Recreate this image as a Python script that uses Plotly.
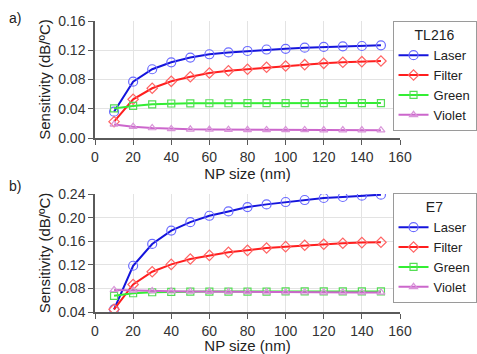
import plotly.graph_objects as go
from plotly.subplots import make_subplots

np_size = [10, 20, 30, 40, 50, 60, 70, 80, 90, 100, 110, 120, 130, 140, 150]

# TL216
laser_a = [0.036, 0.077, 0.094, 0.1035, 0.110, 0.1145, 0.117, 0.119, 0.121, 0.122, 0.1235, 0.1245, 0.1254, 0.1258, 0.1268]
filter_a = [0.0223, 0.0529, 0.068, 0.0775, 0.0838, 0.0889, 0.092, 0.094, 0.0967, 0.0985, 0.1003, 0.1021, 0.1035, 0.1044, 0.1053]
green_a = [0.0405, 0.0438, 0.046, 0.0472, 0.0474, 0.0475, 0.0475, 0.0476, 0.0476, 0.0477, 0.0477, 0.0477, 0.0478, 0.0478, 0.0478]
violet_a = [0.0185, 0.0155, 0.0137, 0.0125, 0.0119, 0.0116, 0.0114, 0.0112, 0.0111, 0.011, 0.011, 0.0109, 0.0108, 0.0108, 0.0107]

# E7
laser_b = [0.0445, 0.1184, 0.1553, 0.178, 0.1923, 0.2031, 0.2105, 0.2178, 0.2224, 0.2264, 0.2298, 0.2332, 0.2349, 0.2372, 0.2389]
filter_b = [0.0445, 0.0866, 0.1082, 0.1207, 0.1298, 0.136, 0.1411, 0.1445, 0.1485, 0.1508, 0.1531, 0.1548, 0.1565, 0.1576, 0.1582]
green_b = [0.0675, 0.0718, 0.0735, 0.0742, 0.0745, 0.0746, 0.0747, 0.0747, 0.0747, 0.0748, 0.0748, 0.0748, 0.0748, 0.0748, 0.0748]
violet_b = [0.0775, 0.0765, 0.0758, 0.0752, 0.0748, 0.0745, 0.0742, 0.074, 0.0738, 0.0736, 0.0735, 0.0734, 0.0733, 0.0732, 0.0731]

series_names = ["Laser", "Filter", "Green", "Violet"]
legend_titles = ["TL216", "E7"]
panel_labels = ["a)", "b)"]
x_ticks = [0, 20, 40, 60, 80, 100, 120, 140, 160]

styles = {
    "Laser": dict(line="#1414dc", marker="#6b6bff", symbol="circle-open", size=9),
    "Filter": dict(line="#ff1e1e", marker="#ff6464", symbol="diamond-open", size=8),
    "Green": dict(line="#33ee33", marker="#55dd55", symbol="square-open", size=7),
    "Violet": dict(line="#cc66cc", marker="#d995d9", symbol="triangle-up-open", size=7),
}

FONT = "Liberation Sans, Arial, sans-serif"
W, H = 477, 354

fig = make_subplots(rows=2, cols=1)

data = [
    [laser_a, filter_a, green_a, violet_a],
    [laser_b, filter_b, green_b, violet_b],
]
for r, panel in enumerate(data):
    for name, ys in zip(series_names, panel):
        st = styles[name]
        fig.add_trace(
            go.Scatter(
                x=np_size, y=ys, name=name, mode="lines+markers",
                line=dict(color=st["line"], width=2),
                marker=dict(symbol=st["symbol"], size=st["size"], color=st["marker"],
                            line=dict(width=1.2, color=st["marker"])),
                legend="legend" if r == 0 else "legend2",
            ),
            row=r + 1, col=1,
        )

x_dom = [95 / W, 400 / W]
y_doms = [[1 - 138 / H, 1 - 21 / H], [1 - 312 / H, 1 - 194 / H]]
y_ranges = [[0, 0.16], [0.04, 0.24]]

axis_common = dict(
    showline=True, linecolor="#5a5a5a", linewidth=1.5, mirror=False,
    ticks="outside", ticklen=5, tickcolor="#5a5a5a", tickwidth=1.3,
    showgrid=True, gridcolor="#e3e3e3", gridwidth=1, zeroline=False,
    tickfont=dict(family=FONT, size=14, color="#333"),
    automargin=False,
)
for i in range(2):
    xa = "xaxis" if i == 0 else "xaxis2"
    ya = "yaxis" if i == 0 else "yaxis2"
    fig.layout[xa].update(
        domain=x_dom, range=[0, 160], tickvals=x_ticks,
        title=dict(text="NP size (nm)", font=dict(family=FONT, size=15, color="#222"), standoff=1),
        **axis_common,
    )
    fig.layout[ya].update(
        domain=y_doms[i], range=y_ranges[i], dtick=0.04, tick0=0, tickformat=".2f",
        title=dict(text="Sensitivity (dB/ºC)", font=dict(family=FONT, size=15, color="#222"), standoff=4),
        **axis_common,
    )

legend_common = dict(
    bgcolor="white", bordercolor="#9a9a9a", borderwidth=1,
    font=dict(family=FONT, size=13, color="#222"),
    xanchor="right", x=0.999, yanchor="top",
    itemwidth=30, tracegroupgap=0,
)
fig.update_layout(
    legend=dict(title=dict(text=legend_titles[0], side="top center",
                           font=dict(family=FONT, size=14, color="#222")),
                y=1 - 21 / H, **legend_common),
    legend2=dict(title=dict(text=legend_titles[1], side="top center",
                            font=dict(family=FONT, size=14, color="#222")),
                 y=1 - 193 / H, **legend_common),
)

for lbl, yy in zip(panel_labels, [1 - 18 / H, 1 - 186 / H]):
    fig.add_annotation(text=lbl, xref="paper", yref="paper", x=7 / W, y=yy,
                       xanchor="left", yanchor="middle", showarrow=False,
                       font=dict(family=FONT, size=14, color="#222"))

fig.update_layout(
    width=W, height=H, margin=dict(l=0, r=0, t=0, b=0),
    paper_bgcolor="white", plot_bgcolor="white", showlegend=True,
)

fig.write_html("out.html", config={"displayModeBar": False},
               post_script="document.body.style.margin='0';document.body.style.overflow='hidden';")
